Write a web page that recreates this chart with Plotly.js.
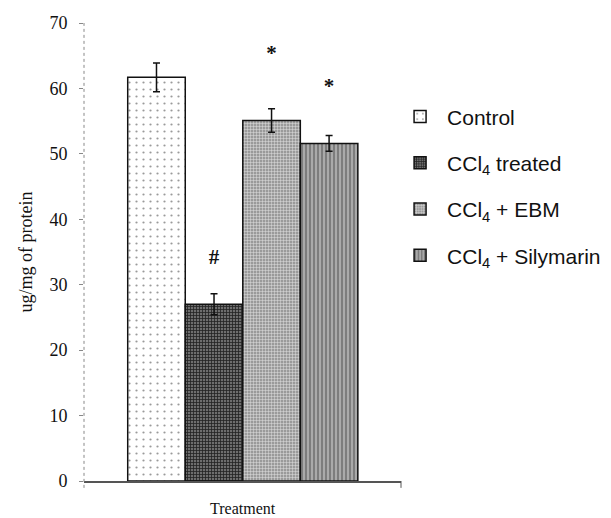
<!DOCTYPE html>
<html>
<head>
<meta charset="utf-8">
<script src="https://cdn.plot.ly/plotly-3.0.1.min.js"></script>
<style>html,body{margin:0;padding:0;background:#fff;}#chart{width:611px;height:518px;}</style>
</head>
<body>
<div id="chart"></div>
<script>
// Data
var categories = ['Control', 'CCl4 treated', 'CCl4 + EBM', 'CCl4 + Silymarin'];
var legendNames = ['Control', 'CCl<sub>4</sub> treated', 'CCl<sub>4</sub> + EBM', 'CCl<sub>4</sub> + Silymarin'];
var means = [61.7, 27.0, 55.1, 51.6];
var errors = [2.2, 1.6, 1.8, 1.2];
var sigCategories = ['CCl4 treated', 'CCl4 + EBM', 'CCl4 + Silymarin'];
var sigLabels = ['#', '*', '*'];
var sigY = [33.9, 65.2, 60.1];
var yTicks = [0, 10, 20, 30, 40, 50, 60, 70];

var styles = [
  {color: '#ffffff', pattern: {shape: '.', bgcolor: '#ffffff', fgcolor: '#9a9a9a', size: 7, solidity: 0.08}},
  {color: '#4a4a4a', pattern: {shape: '+', bgcolor: '#6e6e6e', fgcolor: '#222222', size: 3, solidity: 0.45}},
  {color: '#a8a8a8', pattern: {shape: '+', bgcolor: '#9a9a9a', fgcolor: '#e0e0e0', size: 3, solidity: 0.3}},
  {color: '#999999', pattern: {shape: '|', bgcolor: '#aaaaaa', fgcolor: '#6a6a6a', size: 4, solidity: 0.35}}
];

var traces = categories.map(function (c, i) {
  return {
    type: 'bar',
    x: [c],
    y: [means[i]],
    width: [1],
    name: legendNames[i],
    legendgroup: 'g' + i,
    marker: {
      color: styles[i].color,
      pattern: styles[i].pattern,
      line: {color: '#111', width: 1.5}
    },
    error_y: {type: 'data', array: [errors[i]], visible: true, color: '#111', thickness: 1.5, width: 3.5},
    hoverinfo: 'skip'
  };
});

traces.push({
  type: 'scatter',
  mode: 'text',
  x: sigCategories,
  y: sigY,
  text: sigLabels.map(function (s) { return '<b>' + s + '</b>'; }),
  textposition: 'middle center',
  textfont: {family: 'Liberation Serif, serif', size: 21, color: '#111'},
  showlegend: false,
  hoverinfo: 'skip'
});

var layout = {
  width: 611,
  height: 518,
  margin: {l: 84, r: 210, t: 23, b: 37, autoexpand: false},
  paper_bgcolor: '#fff',
  plot_bgcolor: '#fff',
  barmode: 'overlay',
  showlegend: true,
  legend: {
    x: 0.975, xanchor: 'left', y: 0.84, yanchor: 'top',
    font: {family: 'Liberation Sans, Arial, sans-serif', size: 21, color: '#111'},
    tracegroupgap: 16,
    itemwidth: 44,
    traceorder: 'grouped'
  },
  xaxis: {
    type: 'category',
    categoryorder: 'array',
    categoryarray: categories,
    range: [-1.26, 4.25],
    showticklabels: false,
    ticks: '',
    showline: true,
    linecolor: '#555',
    linewidth: 1.5,
    showgrid: false,
    zeroline: false,
    fixedrange: true
  },
  yaxis: {
    range: [0, 70],
    tickvals: yTicks,
    ticktext: yTicks.map(String),
    ticks: 'outside',
    ticklen: 4,
    tickcolor: '#888',
    tickwidth: 1,
    ticklabelstandoff: 8,
    tickfont: {family: 'Liberation Serif, serif', size: 18, color: '#111'},
    showline: false,
    showgrid: false,
    zeroline: false,
    title: {text: 'ug/mg of protein', font: {family: 'Liberation Serif, serif', size: 18, color: '#111'}, standoff: 12},
    fixedrange: true
  },
  annotations: [{
    text: 'Treatment', xref: 'paper', yref: 'paper', x: 0.5, y: 0,
    xanchor: 'center', yanchor: 'top', yshift: -17, showarrow: false,
    font: {family: 'Liberation Serif, serif', size: 16, color: '#111'}
  }],
  shapes: [
    {type: 'line', xref: 'paper', yref: 'paper', x0: 0, x1: 0, y0: -0.015, y1: 1, line: {color: '#888', width: 1, dash: 'dot'}},
    {type: 'line', xref: 'paper', yref: 'paper', x0: 1, x1: 1, y0: -0.015, y1: 0, line: {color: '#555', width: 1}}
  ]
};

Plotly.newPlot('chart', traces, layout, {displayModeBar: false, staticPlot: true});
</script>
</body>
</html>
